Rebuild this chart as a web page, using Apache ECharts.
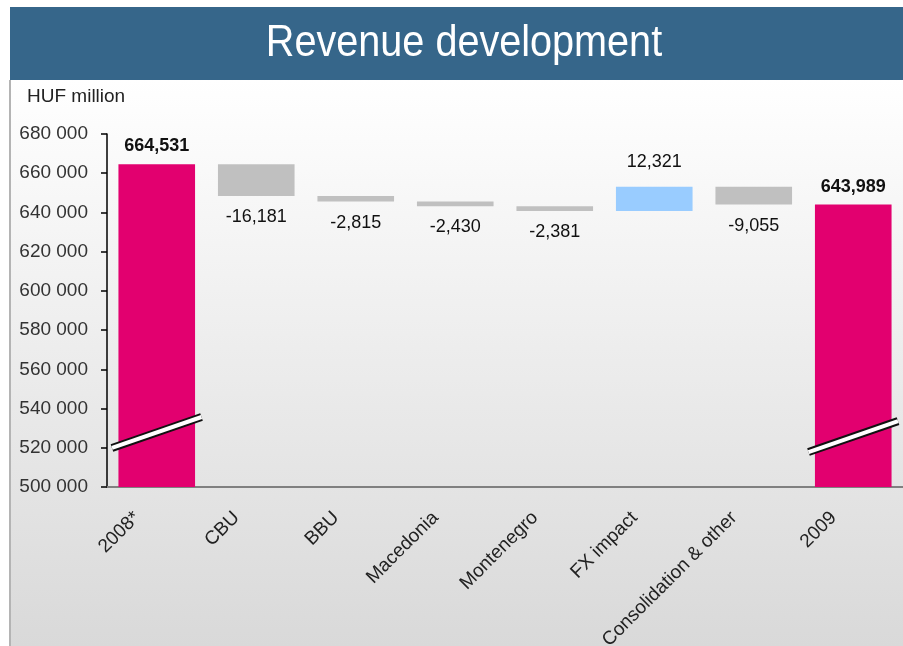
<!DOCTYPE html>
<html>
<head>
<meta charset="utf-8">
<script src="https://cdn.jsdelivr.net/npm/echarts@6/dist/echarts.min.js"></script>
<style>
  html, body { margin: 0; padding: 0; background: #fff; }
  #chart { width: 903px; height: 646px; }
</style>
</head>
<body>
<div id="chart"></div>
<script>
// categories / values
const categories = ['2008*', 'CBU', 'BBU', 'Macedonia', 'Montenegro', 'FX impact', 'Consolidation & other', '2009']
const totalValues = [664531, '-', '-', '-', '-', '-', '-', 643989]
const changeValues = ['-', -16181, -2815, -2430, -2381, 12321, -9055, '-']
// axis break marks: category index, low end, high end
const breakIndex = [0, 7]
const breakLow = [519900, 517800]
const breakHigh = [535700, 533600]

const yMin = 500000
const yMax = 680000
const yStep = 20000

// waterfall helper arrays
const baseData = []
const downData = []
const upData = []
let level = 0
categories.forEach((c, i) => {
  if (totalValues[i] !== '-') {
    level = totalValues[i]
    baseData.push(0)
    downData.push('-')
    upData.push('-')
  } else {
    const d = changeValues[i]
    const next = level + d
    baseData.push(Math.min(level, next))
    downData.push(d < 0 ? -d : '-')
    upData.push(d > 0 ? d : '-')
    level = next
  }
})

const fmt = (v) => Number(v).toLocaleString('en-US')
const font = "'Liberation Sans', Arial, sans-serif"

const chart = echarts.init(document.getElementById('chart'))

const option = {
  animation: false,
  graphic: [
    {
      type: 'rect', z: -10, silent: true,
      shape: { x: 10, y: 80, width: 893, height: 566 },
      style: {
        fill: new echarts.graphic.LinearGradient(0, 0, 0, 1, [
          { offset: 0, color: '#ffffff' },
          { offset: 1, color: '#d9d9d9' }
        ])
      }
    },
    {
      type: 'rect', z: -9, silent: true,
      shape: { x: 9, y: 80, width: 2, height: 566 },
      style: { fill: '#b4b4b4' }
    },
    {
      type: 'rect', z: -9, silent: true,
      shape: { x: 10, y: 7, width: 893, height: 73 },
      style: { fill: '#36668a' }
    },
    {
      // title, slightly condensed
      type: 'text',
      x: 464, y: 44,
      scaleX: 0.9,
      style: {
        text: 'Revenue development',
        fontSize: 44,
        fontFamily: font,
        fill: '#ffffff',
        align: 'center',
        verticalAlign: 'middle'
      }
    },
    {
      type: 'text', left: 27, top: 87,
      style: { text: 'HUF million', fontSize: 19, fontFamily: font, fill: '#222' }
    }
  ],
  grid: { left: 107, right: 0, top: 134, bottom: 159, outerBoundsMode: 'none' },
  xAxis: {
    type: 'category',
    data: categories,
    axisLine: { lineStyle: { color: '#808080', width: 2 } },
    axisTick: { length: 6, lineStyle: { color: '#666' } },
    axisLabel: {
      rotate: 45,
      interval: 0,
      margin: 8,
      padding: [0, 28, 0, 0],
      fontSize: 19,
      fontFamily: font,
      color: '#222'
    }
  },
  yAxis: {
    type: 'value',
    min: yMin,
    max: yMax,
    interval: yStep,
    splitLine: { show: false },
    axisLine: { show: true, lineStyle: { color: '#000', width: 1.5 } },
    axisTick: { show: true, length: 6, lineStyle: { color: '#000', width: 1.5 } },
    axisLabel: {
      margin: 19,
      fontSize: 19,
      fontFamily: font,
      color: '#333',
      formatter: (v) => fmt(v).replace(/,/g, ' ')
    }
  },
  series: [
    {
      name: 'base',
      type: 'bar',
      stack: 'w',
      barCategoryGap: '23%',
      itemStyle: { color: 'transparent' },
      data: baseData
    },
    {
      name: 'total',
      type: 'bar',
      stack: 'w',
      itemStyle: { color: '#e2006f' },
      label: {
        show: true,
        position: 'top',
        distance: 9,
        fontSize: 18,
        fontWeight: 'bold',
        fontFamily: font,
        color: '#111',
        formatter: (p) => fmt(p.value)
      },
      data: totalValues
    },
    {
      name: 'down',
      type: 'bar',
      stack: 'w',
      itemStyle: { color: '#c0c0c0' },
      label: {
        show: true,
        position: 'bottom',
        distance: 12,
        fontSize: 18,
        fontFamily: font,
        color: '#111',
        formatter: (p) => '-' + fmt(p.value)
      },
      data: downData
    },
    {
      name: 'up',
      type: 'bar',
      stack: 'w',
      itemStyle: { color: '#99ccff' },
      label: {
        show: true,
        position: 'top',
        distance: 16,
        fontSize: 18,
        fontFamily: font,
        color: '#111',
        formatter: (p) => fmt(p.value)
      },
      data: upData
    },
    {
      name: 'break',
      type: 'custom',
      z: 10,
      encode: { x: 0, y: [1, 2] },
      data: breakIndex.map((c, i) => [c, breakLow[i], breakHigh[i]]),
      renderItem: (params, api) => {
        const idx = api.value(0)
        const p1 = api.coord([idx, api.value(1)])
        const p2 = api.coord([idx, api.value(2)])
        const w = api.size([1, 0])[0]
        const shape = { x1: p1[0] - 0.45 * w, y1: p1[1], x2: p2[0] + 0.45 * w, y2: p2[1] }
        return {
          type: 'group',
          children: [
            { type: 'line', shape: shape, style: { stroke: '#111', lineWidth: 8 } },
            { type: 'line', shape: shape, style: { stroke: '#fff', lineWidth: 4 } }
          ]
        }
      }
    }
  ]
}

chart.setOption(option)
</script>
</body>
</html>
